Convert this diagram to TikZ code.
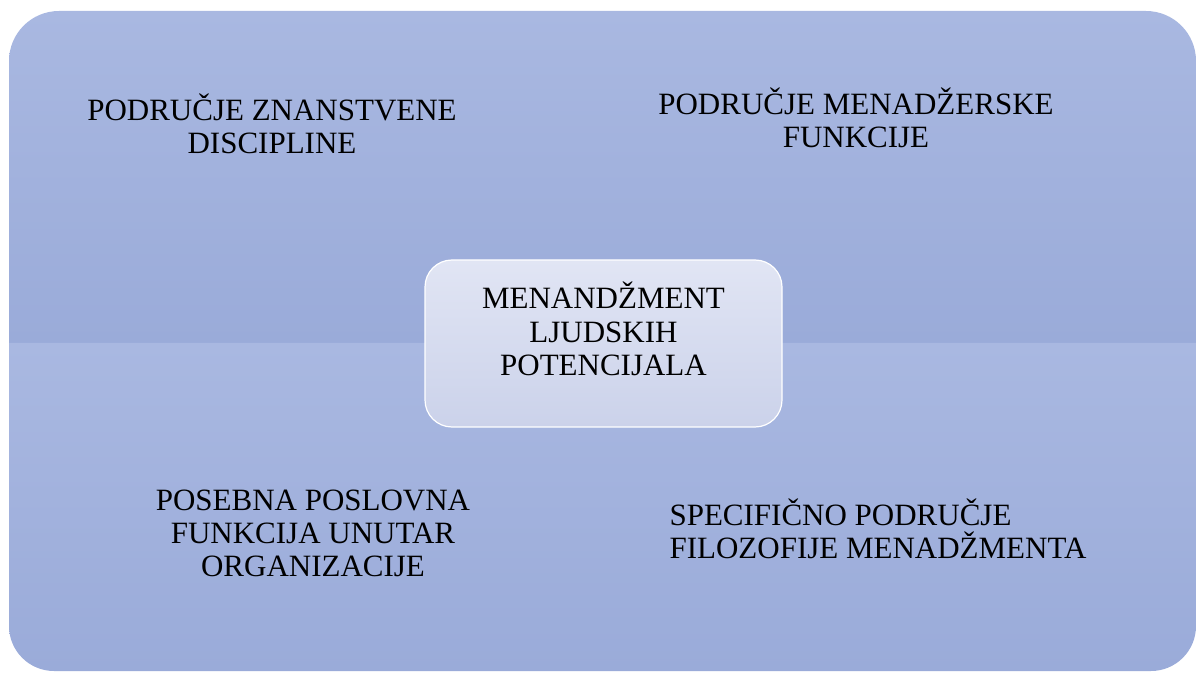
\documentclass[tikz,border=0pt]{standalone}
\usepackage{fontspec}
\setmainfont{Liberation Serif}
\usepackage{tikz}
\usetikzlibrary{positioning}

\definecolor{quadlight}{HTML}{A9B8E1}
\definecolor{quaddark}{HTML}{9AABD9}
\definecolor{corelight}{HTML}{E1E5F4}
\definecolor{coredark}{HTML}{CBD2EA}

\tikzset{
  areatext/.style={align=center, anchor=base, inner sep=0pt,
    font=\fontsize{31}{33}\selectfont},
  corebox/.style={draw=white, line width=1.2pt, rounded corners=27pt,
    top color=corelight, bottom color=coredark,
    minimum width=357pt, minimum height=167pt, inner sep=0pt}
}

\begin{document}
\begin{tikzpicture}[x=1pt,y=1pt]
	  \useasboundingbox (0,0) rectangle (1197,673);
	  % Draw the upper and lower halves of the matrix
	  \shade [top color=quadlight, bottom color=quaddark]
	      (9,330) [rounded corners=50pt] -- (9,662) -- (1196,662)
	      [sharp corners] -- (1196,330) -- cycle;
	  \shade [top color=quadlight, bottom color=quaddark]
	      (9,330) [rounded corners=45pt] -- (9,2) -- (1196,2)
	      [sharp corners] -- (1196,330) -- cycle;
	  % Draw the four areas (anchored at the last line)
	  \node (science) [areatext] at (272,519) {PODRUČJE ZNANSTVENE\\DISCIPLINE};
	  \node (manager) [areatext] at (856,525) {PODRUČJE MENADŽERSKE\\FUNKCIJE};
	  \node (business) [areatext] at (313,97) {POSEBNA POSLOVNA\\FUNKCIJA UNUTAR\\ORGANIZACIJE};
	  \node (philosophy) [areatext, align=left] at (878,115) {SPECIFIČNO PODRUČJE\\FILOZOFIJE MENADŽMENTA};
	  % Draw the centre box and its text
	  \node (core) [corebox] at (603.5,329.5) {};
	  \node (coretext) [areatext] at (603.5,298) {MENANDŽMENT\\LJUDSKIH\\POTENCIJALA};
\end{tikzpicture}
\end{document}
